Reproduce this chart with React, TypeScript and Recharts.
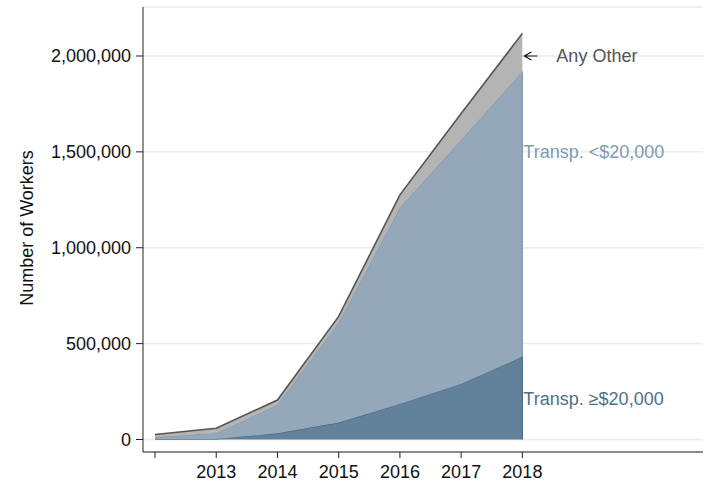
import React from "react"
import { AreaChart, Area, XAxis, YAxis, CartesianGrid, ReferenceDot, ReferenceLine } from "recharts"

// years on the x axis
const years = [2012, 2013, 2014, 2015, 2016, 2017, 2018]
// workers per group (stacked from the bottom)
const transpHigh = [0, 3000, 32000, 88000, 185000, 290000, 431000]
const transpLow = [12000, 29000, 148000, 521000, 1023000, 1272000, 1487000]
const anyOther = [14000, 27000, 26000, 33000, 68000, 138000, 200000]

const yTicks = [0, 500000, 1000000, 1500000, 2000000]
const xTickLabels = ["", "2013", "2014", "2015", "2016", "2017", "2018"]

// where the end labels sit (year, workers)
const labelYear = 2018
const labelNames = ["Any Other", "Transp. <$20,000", "Transp. \u2265$20,000"]
const labelValues = [2000000, 1500000, 215000]

const FONT = '"Liberation Sans", Arial, Helvetica, sans-serif'

const data = years.map((year, i) => ({
  year,
  high: transpHigh[i],
  low: transpLow[i],
  other: anyOther[i],
}))

const last = years.length - 1
const fmt = (v: number) => v.toLocaleString("en-US")

export default function App() {
  return (
    <div style={{ position: "absolute", left: 0, top: 0, width: 704, height: 482, background: "#fff" }}>
      <AreaChart width={704} height={482} data={data} margin={{ top: 7, right: 1, bottom: 0, left: 0 }}>
        <CartesianGrid vertical={false} stroke="#e7edf0" strokeWidth={1.5} />
        <XAxis
          dataKey="year"
          type="number"
          domain={[2011.804, 2020.95]}
          allowDataOverflow
          ticks={years}
          tickFormatter={(v: number) => xTickLabels[years.indexOf(v)] ?? ""}
          height={30}
          stroke="#222"
          tickSize={6}
          tickMargin={7}
          tick={{ fill: "#111", fontSize: 18, fontFamily: FONT }}
        />
        <YAxis
          type="number"
          domain={[-65200, 2255500]}
          allowDataOverflow
          ticks={yTicks}
          tickFormatter={fmt}
          width={143}
          stroke="#222"
          tickSize={7}
          tickMargin={5}
          tick={{ fill: "#111", fontSize: 18, fontFamily: FONT }}
          label={() => (
            <text
              x={33}
              y={228}
              transform="rotate(-90 33 228)"
              textAnchor="middle"
              fill="#111"
              fontSize={18}
              fontFamily={FONT}
            >
              Number of Workers
            </text>
          )}
        />
        <Area
          type="linear"
          dataKey="high"
          stackId="a"
          fill="#62819a"
          fillOpacity={1}
          stroke="#4b6c84"
          strokeWidth={1.2}
          dot={false}
          activeDot={false}
          isAnimationActive={false}
        />
        <Area
          type="linear"
          dataKey="low"
          stackId="a"
          fill="#95a8ba"
          fillOpacity={1}
          stroke="#8299ae"
          strokeWidth={1.2}
          dot={false}
          activeDot={false}
          isAnimationActive={false}
        />
        <Area
          type="linear"
          dataKey="other"
          stackId="a"
          fill="#b4b4b4"
          fillOpacity={1}
          stroke="#555"
          strokeWidth={1.6}
          dot={false}
          activeDot={false}
          isAnimationActive={false}
        />
        {/* closing edges of the blue areas at the last year */}
        <ReferenceLine
          segment={[
            { x: years[last], y: transpHigh[last] },
            { x: years[last], y: transpHigh[last] + transpLow[last] },
          ]}
          stroke="#8299ae"
          strokeWidth={1.2}
        />
        <ReferenceLine
          segment={[
            { x: years[last], y: 0 },
            { x: years[last], y: transpHigh[last] },
          ]}
          stroke="#4b6c84"
          strokeWidth={1.2}
        />
        <ReferenceDot
          x={labelYear}
          y={labelValues[0]}
          r={0}
          ifOverflow="visible"
          label={(props: any) => {
            const vb = props.viewBox || {}
            const x = vb.x + (vb.width || 0) / 2
            const y = vb.y + (vb.height || 0) / 2
            return (
              <g>
                <path
                  d={`M${x + 2},${y} L${x + 15},${y} M${x + 9},${y - 4} L${x + 2},${y} L${x + 9},${y + 4}`}
                  stroke="#111"
                  strokeWidth={1.2}
                  fill="none"
                />
                <text x={x + 34} y={y + 6.4} fill="#555" fontSize={18} fontFamily={FONT}>
                  {labelNames[0]}
                </text>
              </g>
            )
          }}
        />
        <ReferenceDot
          x={labelYear}
          y={labelValues[1]}
          r={0}
          ifOverflow="visible"
          label={{ value: labelNames[1], position: "right", offset: 1, fill: "#7f9ab3", fontSize: 18, fontFamily: FONT }}
        />
        <ReferenceDot
          x={labelYear}
          y={labelValues[2]}
          r={0}
          ifOverflow="visible"
          label={{ value: labelNames[2], position: "right", offset: 1, fill: "#4d6f88", fontSize: 18, fontFamily: FONT }}
        />
      </AreaChart>
    </div>
  )
}
